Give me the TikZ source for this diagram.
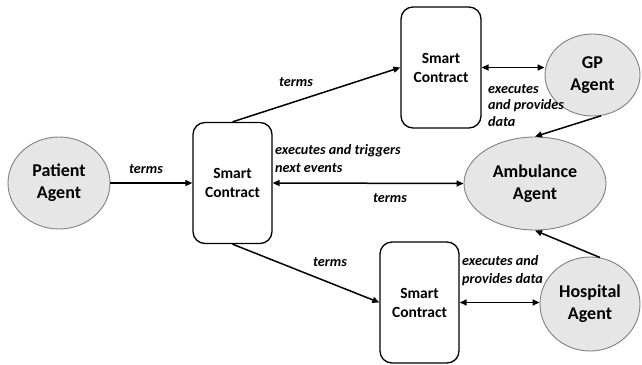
\documentclass[tikz,border=0pt]{standalone}
\usepackage{fontspec}
\setmainfont{Carlito}
\usetikzlibrary{arrows.meta,shapes.geometric}
\definecolor{agentfill}{HTML}{E6E6E6}
\definecolor{agentline}{HTML}{808080}
\begin{document}
\begin{tikzpicture}[x=1pt,y=-1pt,
  agent/.style={ellipse, draw=agentline, fill=agentfill, line width=0.9pt, inner sep=0pt,
    align=center, font=\bfseries\fontsize{18}{22}\selectfont},
  scbox/.style={draw=black, rounded corners=12pt, line width=1.3pt, inner sep=0pt,
    minimum width=79pt, minimum height=121pt, align=center,
    font=\bfseries\fontsize{15.5}{19}\selectfont},
  lbl/.style={font=\bfseries\itshape\fontsize{14.2}{18}\selectfont, align=left, inner sep=0pt},
  arr/.style={line width=1.5pt, -{Triangle[length=7pt,width=6pt]}},
  darr/.style={line width=1.5pt, {Triangle[length=7pt,width=6pt]}-{Triangle[length=7pt,width=6pt]}}
]
\useasboundingbox (0,0) rectangle (642,364);
% nodes
\node[agent, minimum width=102pt, minimum height=92pt] (pat) at (59,183) {Patient\\Agent};
\node[scbox] (sc1) at (232.5,183) {Smart\\Contract};
\node[scbox, minimum width=80pt] (sc2) at (441,67.5) {Smart\\Contract};
\node[scbox] (sc3) at (419.5,302.5) {Smart\\Contract};
\node[agent, minimum width=95pt, minimum height=82pt] (gp) at (592.5,75) {GP\\Agent};
\node[agent, minimum width=142pt, minimum height=93pt] (amb) at (535,183.5) {Ambulance\\Agent};
\node[agent, minimum width=100pt, minimum height=94pt] (hosp) at (590,304) {Hospital\\Agent};
% connectors
\draw[arr] (pat) -- (sc1);
\draw[arr] (sc1.north) -- (sc2.west);
\draw[darr] (sc2.east) -- (sc2.east -| gp.west);
\draw[arr] (gp.-78) -- (amb.north);
\draw[darr] (sc1.east) -- (amb.west);
\draw[arr] (sc1.south) -- (sc3.west);
\draw[darr] (sc3.east) -- (sc3.east -| hosp.west);
\draw[arr] (hosp.78) -- (amb.south);
% labels
\node[lbl] (l1) at (146,169) {terms};
\node[lbl] (l2) at (296,82) {terms};
\node[lbl, anchor=north west] (l3) at (275,144) {executes and triggers\\next events};
\node[lbl] (l4) at (390,198) {terms};
\node[lbl, anchor=north west, font=\bfseries\itshape\fontsize{14.2}{16.5}\selectfont] (l5) at (488,84) {executes\\and provides\\data};
\node[lbl, anchor=north west] (l6) at (462,255) {executes and\\provides data};
\node[lbl] (l7) at (330,262) {terms};
\end{tikzpicture}
\end{document}
